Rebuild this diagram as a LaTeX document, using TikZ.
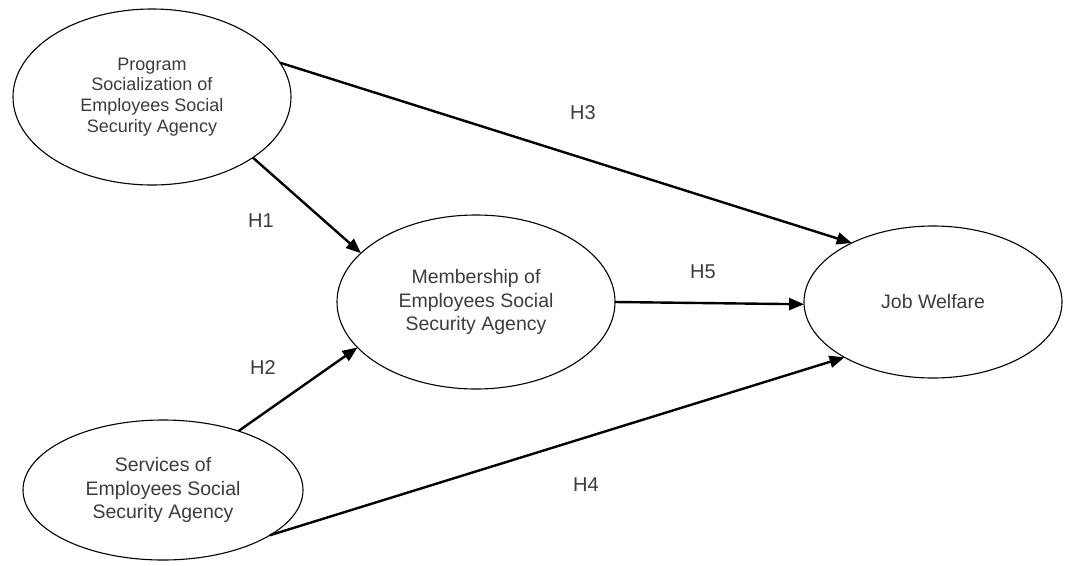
\documentclass[tikz,border=0pt]{standalone}
\usepackage{fontspec}
\setmainfont{Liberation Sans}
\usetikzlibrary{shapes.geometric,arrows.meta}
\definecolor{txtc}{RGB}{60,60,60}
\begin{document}
\begin{tikzpicture}[x=1pt,y=-1pt,
  latent/.style={draw=black, line width=1.1pt, ellipse, inner sep=0pt, outer sep=0pt, align=center, text=txtc, font=\fontsize{19.5}{23.5}\selectfont},
  hpath/.style={line width=2.4pt, -{Triangle[length=15pt,width=12pt]}},
  hyp/.style={text=txtc, font=\fontsize{20}{24}\selectfont}]
\useasboundingbox (0,0) rectangle (1065,565);
\fill[white] (0,0) rectangle (1065,565);
\node[latent, minimum width=278pt, minimum height=176pt, font=\fontsize{18}{20.7}\selectfont] (prog) at (152,97) {Program\\Socialization of\\Employees Social\\Security Agency};
\node[latent, minimum width=278pt, minimum height=174pt] (memb) at (476,302) {Membership of\\Employees Social\\Security Agency};
\node[latent, minimum width=280pt, minimum height=140pt] (serv) at (163,490) {Services of\\Employees Social\\Security Agency};
\node[latent, minimum width=258pt, minimum height=152pt] (job) at (933,302) {Job Welfare};
\draw[hpath] (prog.15.5) -- (job.144);
\draw[hpath] (prog.-31.8) -- (memb.157);
\draw[hpath] (serv.38) -- (memb.201);
\draw[hpath] (serv.-23.7) -- (job.212.8);
\draw[hpath] (memb.0.8) -- (job.181.3);
\node[hyp] (h1) at (261,221) {H1};
\node[hyp] (h2) at (263,368) {H2};
\node[hyp] (h3) at (583,113) {H3};
\node[hyp] (h4) at (586,485) {H4};
\node[hyp] (h5) at (703,272) {H5};
\end{tikzpicture}
\end{document}
